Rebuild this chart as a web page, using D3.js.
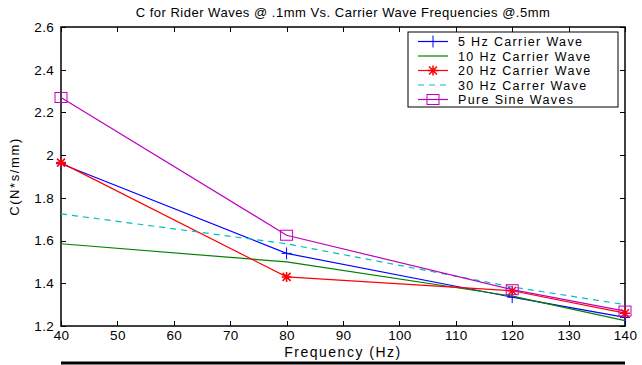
<!DOCTYPE html>
<html lang="en">
<head>
    <meta charset="UTF-8">
    <title>C for Rider Waves</title>
    <script src="https://cdn.jsdelivr.net/npm/d3@7"></script>
    <style>
        body { margin: 0; background: #fff; }
        text { font-family: "Liberation Sans", Arial, sans-serif; fill: #000; }
        .axis path, .axis line { stroke: #000; shape-rendering: crispEdges; }
        .axis text { font-size: 13.5px; letter-spacing: 0.3px; }
    </style>
</head>
<body>
<script>
    // data
    const freqs = [40, 80, 120, 140]
    const hz5 = [1.96, 1.54, 1.335, 1.24]
    const hz10 = [1.585, 1.50, 1.34, 1.225]
    const hz20 = [1.965, 1.43, 1.365, 1.26]
    const hz30 = [1.725, 1.585, 1.383, 1.30]
    const pureSine = [2.27, 1.625, 1.37, 1.27]
    const xTicks = [40, 50, 60, 70, 80, 90, 100, 110, 120, 130, 140]
    const yTicks = [1.2, 1.4, 1.6, 1.8, 2, 2.2, 2.4, 2.6]

    const series = [
        { name: '5 Hz Carrier Wave', values: hz5, color: '#0000ff', marker: 'plus' },
        { name: '10 Hz Carrier Wave', values: hz10, color: '#008000', marker: 'none' },
        { name: '20 Hz Carrier Wave', values: hz20, color: '#ff0000', marker: 'star' },
        { name: '30 Hz Carrer Wave', values: hz30, color: '#00bfbf', marker: 'none', dash: '6,5' },
        { name: 'Pure Sine Waves', values: pureSine, color: '#bf00bf', marker: 'square' }
    ]

    const width = 642, height = 365
    const pLeft = 61, pRight = 625, pTop = 27, pBottom = 326

    const svg = d3.select('body').append('svg').attr('width', width).attr('height', height)

    const x = d3.scaleLinear().domain([40, 140]).range([pLeft, pRight])
    const y = d3.scaleLinear().domain([1.2, 2.6]).range([pBottom, pTop])

    // axes, ticks point inward like matlab
    svg.append('g').attr('class', 'axis')
        .attr('transform', 'translate(0,' + pBottom + ')')
        .call(d3.axisBottom(x).tickValues(xTicks).tickSizeInner(-5).tickSizeOuter(0).tickPadding(4))
    svg.append('g').attr('class', 'axis')
        .attr('transform', 'translate(0,' + pTop + ')')
        .call(d3.axisTop(x).tickValues(xTicks).tickSizeInner(-5).tickSizeOuter(0).tickFormat(''))
    svg.append('g').attr('class', 'axis')
        .attr('transform', 'translate(' + pLeft + ',0)')
        .call(d3.axisLeft(y).tickValues(yTicks).tickSizeInner(-5).tickSizeOuter(0).tickPadding(7).tickFormat(d3.format('')))
    svg.append('g').attr('class', 'axis')
        .attr('transform', 'translate(' + pRight + ',0)')
        .call(d3.axisRight(y).tickValues(yTicks).tickSizeInner(-5).tickSizeOuter(0).tickFormat(''))

    svg.selectAll('.axis text').attr('fill', '#000')
    svg.selectAll('.axis .domain').remove()

    svg.append('rect')
        .attr('x', pLeft).attr('y', pTop)
        .attr('width', pRight - pLeft).attr('height', pBottom - pTop)
        .attr('fill', 'none').attr('stroke', '#000').attr('stroke-width', 1.5)

    const line = d3.line()
        .x((d, i) => x(freqs[i]))
        .y(d => y(d))

    function drawMarker(g, type, color, cx, cy) {
        if (type === 'plus') {
            g.append('path').attr('d', `M${cx - 5},${cy}H${cx + 5}M${cx},${cy - 6}V${cy + 6}`)
                .attr('stroke', color).attr('fill', 'none')
        } else if (type === 'star') {
            g.append('path').attr('d', `M${cx - 5},${cy}H${cx + 5}M${cx},${cy - 5}V${cy + 5}M${cx - 4},${cy - 4}L${cx + 4},${cy + 4}M${cx - 4},${cy + 4}L${cx + 4},${cy - 4}`)
                .attr('stroke', color).attr('stroke-width', 1.5).attr('fill', 'none')
        } else if (type === 'square') {
            g.append('rect').attr('x', cx - 6).attr('y', cy - 5).attr('width', 12).attr('height', 10)
                .attr('stroke', color).attr('fill', 'none')
        }
    }

    series.forEach(s => {
        svg.append('path')
            .datum(s.values)
            .attr('d', line)
            .attr('fill', 'none')
            .attr('stroke', s.color)
            .attr('stroke-width', 1.2)
            .attr('stroke-dasharray', s.dash || null)
        const g = svg.append('g')
        s.values.forEach((v, i) => drawMarker(g, s.marker, s.color, x(freqs[i]), y(v)))
    })

    // legend
    const legend = svg.append('g')
    legend.append('rect')
        .attr('x', 408).attr('y', 32).attr('width', 210).attr('height', 75)
        .attr('fill', '#fff').attr('stroke', '#000').attr('stroke-width', 1)
    series.forEach((s, i) => {
        const ly = 41.5 + i * 14.5
        legend.append('line')
            .attr('x1', 418).attr('x2', 448).attr('y1', ly).attr('y2', ly)
            .attr('stroke', s.color).attr('stroke-width', 1.2)
            .attr('stroke-dasharray', s.dash || null)
        drawMarker(legend, s.marker, s.color, 433, ly)
        legend.append('text')
            .attr('x', 458).attr('y', ly + 4.5)
            .attr('font-size', 12.5)
            .attr('letter-spacing', '1.35px')
            .text(s.name)
    })

    // title and labels
    svg.append('text')
        .attr('x', (pLeft + pRight) / 2).attr('y', 17)
        .attr('text-anchor', 'middle').attr('font-size', 13)
        .attr('letter-spacing', '0.5px')
        .text('C for Rider Waves @ .1mm Vs. Carrier Wave Frequencies @.5mm')
    svg.append('text')
        .attr('x', (pLeft + pRight) / 2).attr('y', 357)
        .attr('text-anchor', 'middle').attr('font-size', 14)
        .attr('letter-spacing', '1.5px')
        .text('Frequency (Hz)')
    svg.append('text')
        .attr('transform', 'translate(19,' + (pTop + pBottom) / 2 + ') rotate(-90)')
        .attr('text-anchor', 'middle').attr('font-size', 13)
        .attr('letter-spacing', '1.6px')
        .text('C(N*s/mm)')

    // thick rule under the figure
    svg.append('line')
        .attr('x1', pLeft).attr('x2', pRight).attr('y1', 363).attr('y2', 363)
        .attr('stroke', '#000').attr('stroke-width', 3)
</script>
</body>
</html>
